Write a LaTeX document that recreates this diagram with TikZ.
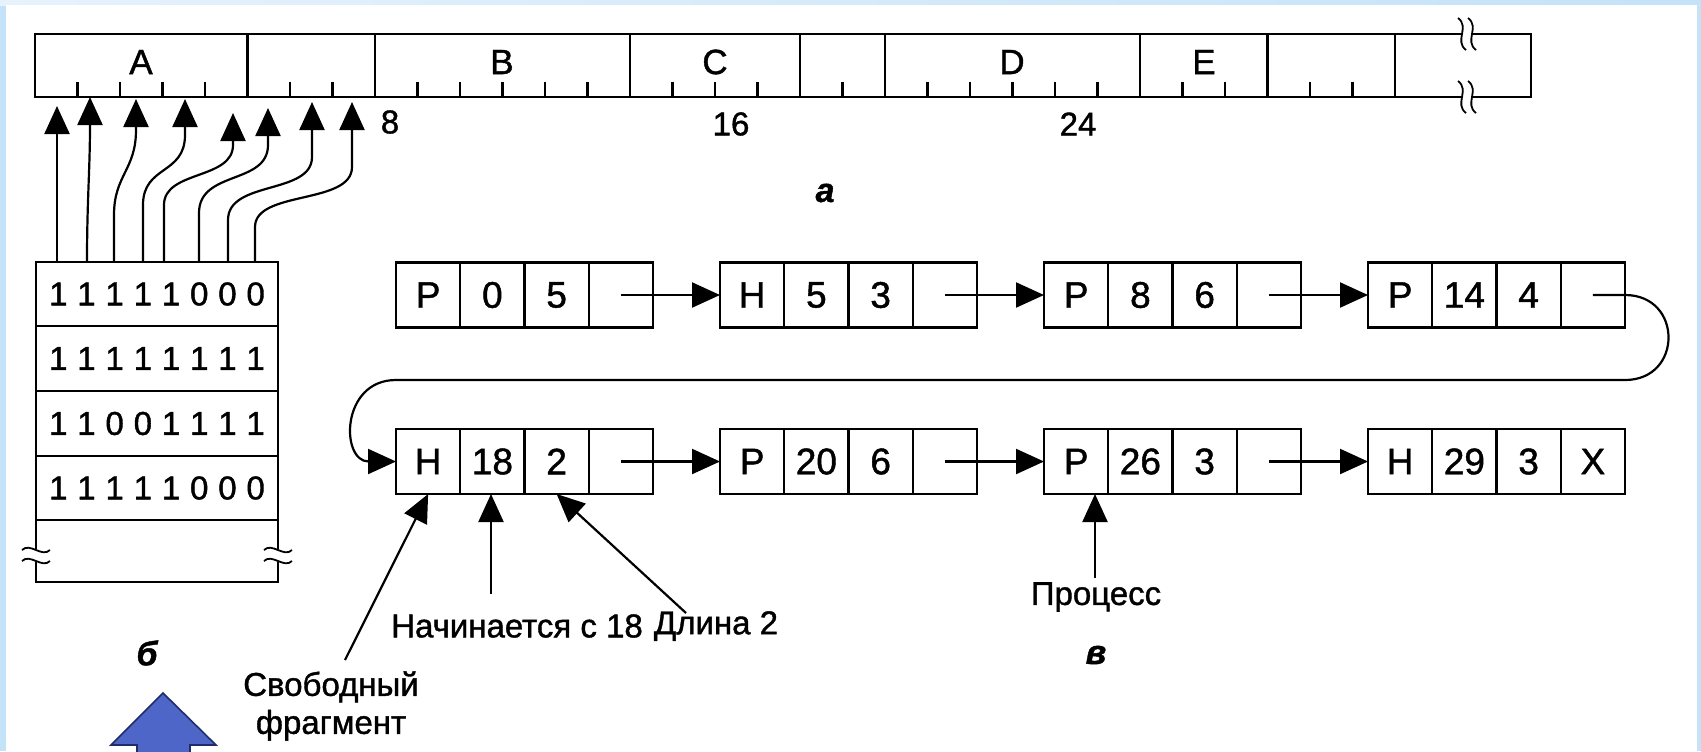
\documentclass[tikz,border=0pt]{standalone}
\usepackage{fontspec}
\setmainfont{Liberation Sans}[FakeBold=1.2]
\usetikzlibrary{arrows.meta,calc}
\definecolor{bgblue}{HTML}{C4E2F8}
\definecolor{bgtop}{HTML}{E6F2FC}
\definecolor{arrfill}{HTML}{4D66C7}
\definecolor{arrline}{HTML}{1F2D6B}
\newcommand\bitrow[8]{\makebox[14.1pt]{#1}\makebox[14.1pt]{#2}\makebox[14.1pt]{#3}\makebox[14.1pt]{#4}\makebox[14.1pt]{#5}\makebox[14.1pt]{#6}\makebox[14.1pt]{#7}\makebox[14.1pt]{#8}}
\newcommand\lbox[7]{%
  \node[cell, anchor=west] (#1-1) at (#2,#3) {#4};
  \node[cell, anchor=west] (#1-2) at (#1-1.east) {#5};
  \node[cell, anchor=west] (#1-3) at (#1-2.east) {#6};
  \node[cell, anchor=west] (#1-4) at (#1-3.east) {#7};}
\begin{document}
\begin{tikzpicture}[x=0.5pt,y=-0.5pt,line width=1.1pt,
  cell/.style={draw, minimum width=32.125pt, minimum height=32.5pt, inner sep=0pt, outer sep=0pt, font=\fontsize{18.5}{18.5}\selectfont},
  arr/.style={-{Triangle[length=14pt,width=12.5pt]}},
  lbl/.style={font=\fontsize{16.5}{19}\selectfont, inner sep=0pt},
  stripf/.style={font=\fontsize{17.5}{17.5}\selectfont, inner sep=0pt},
  numf/.style={font=\fontsize{16.5}{16.5}\selectfont, inner sep=0pt},
  bitf/.style={font=\fontsize{16.5}{16.5}\selectfont, inner sep=0pt},
  ital/.style={font=\fontsize{17}{17}\selectfont\bfseries\itshape, inner sep=0pt}]
\useasboundingbox (0,0) rectangle (1701,751);
% background
\fill[bgblue] (0,0) rectangle (1701,751);
\shade[left color=bgtop, right color=bgblue] (0,0) rectangle (1701,5);
\fill[white] (6,5) rectangle (1697,751);

% memory strip
\draw (1462,34) -- (35,34) -- (35,97) -- (1462,97);
\draw (1472,34) -- (1531,34) -- (1531,97) -- (1472,97);
\foreach \u in {5,8,14,18,20,26,29,32} \draw ({35+\u*42.5},34) -- ({35+\u*42.5},97);
\foreach \u in {1,2,3,4,6,7,9,10,11,12,13,15,16,17,19,21,22,23,24,25,27,28,30,31} \draw ({35+\u*42.5},97) -- ({35+\u*42.5},82);
\foreach \sx in {1462,1472} \foreach \sy in {34,97}
  \draw[line width=0.9pt] ({\sx-4},{\sy-16}) .. controls ({\sx+8},{\sy-7}) and ({\sx-8},{\sy+7}) .. ({\sx+4},{\sy+16});
\node[stripf] (lA) at (141,62) {A};
\node[stripf] (lB) at (502,62) {B};
\node[stripf] (lC) at (715,62) {C};
\node[stripf] (lD) at (1012,62) {D};
\node[stripf] (lE) at (1204,62) {E};
\node[numf] (n8) at (390,122) {8};
\node[numf] (n16) at (731,124) {16};
\node[numf] (n24) at (1078,124) {24};
\node[ital] (la) at (825,193) {а};

% bitmap
\draw (36,549) -- (36,262) -- (278,262) -- (278,549);
\draw (36,562) -- (36,582) -- (278,582) -- (278,562);
\foreach \yy in {326,391,456,520} \draw (36,\yy) -- (278,\yy);
\foreach \sx in {36,278} \foreach \dy in {0,11}
  \draw[line width=0.9pt] ({\sx-14},{550+\dy}) .. controls ({\sx-6},{542+\dy}) and ({\sx+6},{558+\dy}) .. ({\sx+14},{550+\dy});
\node[bitf] (r1) at (157,294) {\bitrow 11111000};
\node[bitf] (r2) at (157,358.5) {\bitrow 11111111};
\node[bitf] (r3) at (157,423.5) {\bitrow 11001111};
\node[bitf] (r4) at (157,488) {\bitrow 11111000};
\node[ital] (lb) at (147,653) {б};

% bitmap arrows
\coordinate (b1) at (57,262);  \coordinate (t1) at (57,106);
\coordinate (b2) at (87,262);  \coordinate (t2) at (90,97);
\coordinate (b3) at (114,262); \coordinate (t3) at (136,99);
\coordinate (b4) at (143,262); \coordinate (t4) at (185,99);
\coordinate (b5) at (164,262); \coordinate (t5) at (233,113);
\coordinate (b6) at (199,262); \coordinate (t6) at (268,108);
\coordinate (b7) at (228,262); \coordinate (t7) at (312,102);
\coordinate (b8) at (255,262); \coordinate (t8) at (352,102);
\draw[arr] (b1) -- (t1);
\draw[arr] (b2) .. controls (87,200) and (90,170) .. (t2);
\draw[arr] (b3) -- (114,215) .. controls (114,175) and (136,170) .. (136,130) -- (t3);
\draw[arr] (b4) -- (143,205) .. controls (143,165) and (185,175) .. (185,135) -- (t4);
\draw[arr] (b5) -- (164,205) .. controls (164,170) and (233,180) .. (233,145) -- (t5);
\draw[arr] (b6) -- (199,213) .. controls (199,170) and (268,185) .. (268,145) -- (t6);
\draw[arr] (b7) -- (228,220) .. controls (228,180) and (312,195) .. (312,157) -- (t7);
\draw[arr] (b8) -- (255,227) .. controls (255,190) and (352,205) .. (352,167) -- (t8);

% linked list
\lbox{ra}{396}{295}{P}{0}{5}{}
\lbox{rb}{720}{295}{H}{5}{3}{}
\lbox{rc}{1044}{295}{P}{8}{6}{}
\lbox{rd}{1368}{295}{P}{14}{4}{}
\lbox{sa}{396}{461.5}{H}{18}{2}{}
\lbox{sb}{720}{461.5}{P}{20}{6}{}
\lbox{sc}{1044}{461.5}{P}{26}{3}{}
\lbox{sd}{1368}{461.5}{H}{29}{3}{X}
\draw[arr] (ra-4.center) -- (rb-1.west);
\draw[arr] (rb-4.center) -- (rc-1.west);
\draw[arr] (rc-4.center) -- (rd-1.west);
\draw[arr] (rd-4.center) -- (rd-4.east) to[out=0,in=0,looseness=1.75] ($(rd-4.east)+(0,85)$)
  -- ($(sa-1.west)+(0,-81.5)$) to[out=180,in=180,looseness=1.75] (sa-1.west);
\draw[arr] (sa-4.center) -- (sb-1.west);
\draw[arr] (sb-4.center) -- (sc-1.west);
\draw[arr] (sc-4.center) -- (sd-1.west);

% annotations
\node[lbl, align=center] (sv) at (331,706) {Свободный\\фрагмент};
\coordinate (svs) at (345,660);
\draw[arr] (svs) -- (sa-1.south);
\node[lbl] (nach) at (517,626) {Начинается с 18};
\coordinate (nachs) at (491,594);
\draw[arr] (nachs) -- (nachs |- sa-2.south);
\node[lbl] (dl) at (716,626) {Длина 2};
\coordinate (dls) at (686,613);
\draw[arr] (dls) -- (sa-3.south);
\node[lbl] (proc) at (1096,597) {Процесс};
\coordinate (procs) at (1095,578);
\draw[arr] (procs) -- (procs |- sc-1.south);
\node[ital] (lv) at (1096,655) {в};

% blue arrow
\draw[fill=arrfill, draw=arrline, line width=0.8pt] (163,693) -- (216,745) -- (190,745) -- (190,765) -- (137,765) -- (137,745) -- (111,745) -- cycle;
\end{tikzpicture}
\end{document}
